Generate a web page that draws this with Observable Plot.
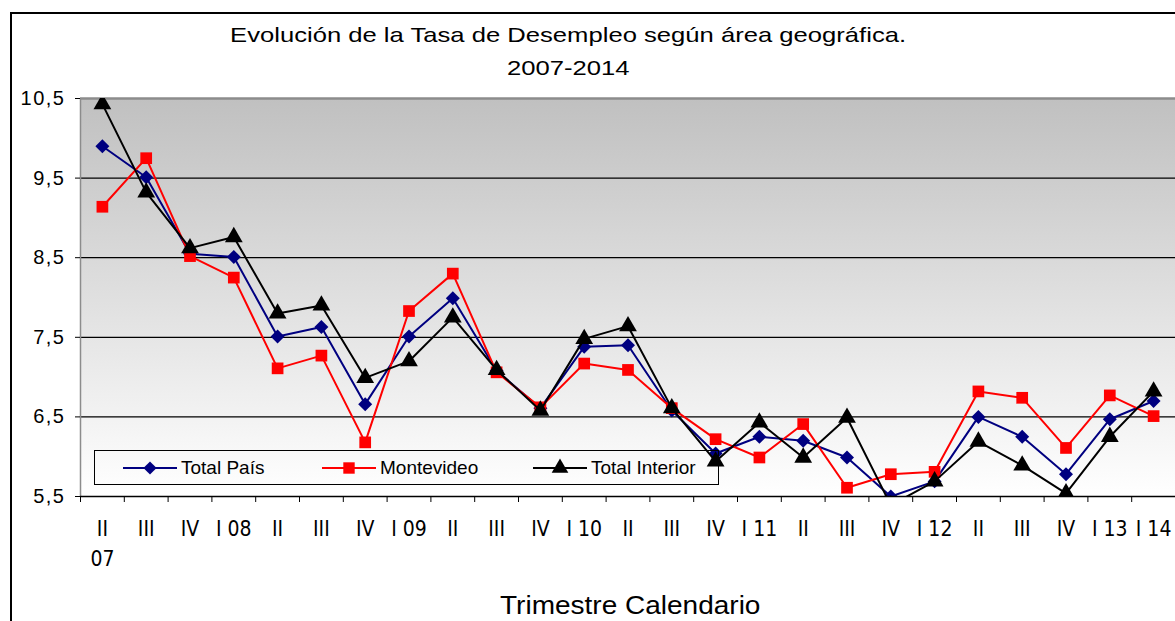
<!DOCTYPE html>
<html>
<head>
<meta charset="utf-8">
<script src="https://cdn.jsdelivr.net/npm/d3@7"></script>
<script src="https://cdn.jsdelivr.net/npm/@observablehq/plot@0.6"></script>
<style>
  html, body { margin: 0; padding: 0; background: #fff; }
  #wrap { position: relative; width: 1175px; height: 621px; overflow: hidden; font-family: "Liberation Sans", Arial, sans-serif; color: #000; }
  #border { position: absolute; left: 10px; top: 12px; right: -5px; bottom: -5px; border-top: 2px solid #000; border-left: 2px solid #000; pointer-events: none; }
  .title { position: absolute; left: 0; width: 1136px; text-align: center; font-size: 21px; white-space: nowrap; }
  .title span { display: inline-block; transform: scaleX(1.22); }
  #xtitle { position: absolute; left: 0; width: 1260px; text-align: center; top: 591px; font-size: 25px; white-space: nowrap; }
  #xtitle span { display: inline-block; transform: scaleX(1.12); }
  #legend { position: absolute; left: 94px; top: 450px; width: 625px; height: 35px; box-sizing: border-box; border: 1px solid #000; }
  .item { position: absolute; top: 0; height: 33px; display: flex; align-items: center; font-size: 19px; white-space: nowrap; }
  .item svg { display: block; margin-right: 4px; }
  #chart { position: absolute; left: 0; top: 0; }
  #chart svg g[aria-label="y-axis tick label"] text { font-size: 20px; letter-spacing: 1.5px; }
</style>
</head>
<body>
<div id="wrap">
  <div id="chart"></div>
  <div class="title" style="top:23px"><span>Evolución de la Tasa de Desempleo según área geográfica.</span></div>
  <div class="title" style="top:56px"><span>2007-2014</span></div>
  <div id="legend"></div>
  <div id="xtitle"><span>Trimestre Calendario</span></div>
  <div id="border"></div>
</div>
<script>
// ---- Data ----
const quarterLabels = ["II\n07","III","IV","I 08","II","III","IV","I 09","II","III","IV","I 10","II","III","IV","I 11","II","III","IV","I 12","II","III","IV","I 13","I 14"];
const seriesNames = ["Total País", "Montevideo", "Total Interior"];
const seriesColors = ["#000080", "#ff0000", "#000000"];
const seriesSymbols = ["diamond2", "square", "triangle"];
const totalPais = [9.90, 9.51, 8.55, 8.51, 7.51, 7.63, 6.66, 7.51, 7.99, 7.08, 6.61, 7.38, 7.40, 6.58, 6.04, 6.25, 6.20, 5.99, 5.50, 5.69, 6.50, 6.25, 5.78, 6.47, 6.70];
const montevideo = [9.14, 9.75, 8.52, 8.25, 7.11, 7.27, 6.18, 7.83, 8.30, 7.06, 6.62, 7.17, 7.09, 6.61, 6.22, 5.99, 6.41, 5.61, 5.78, 5.81, 6.82, 6.74, 6.11, 6.77, 6.51];
const totalInterior = [10.43, 9.32, 8.62, 8.76, 7.80, 7.90, 6.99, 7.20, 7.75, 7.09, 6.58, 7.48, 7.64, 6.61, 5.94, 6.43, 5.99, 6.49, 5.39, 5.69, 6.19, 5.89, 5.54, 6.25, 6.82];
const yTicks = [5.5, 6.5, 7.5, 8.5, 9.5, 10.5];

const seriesValues = [totalPais, montevideo, totalInterior];
const series = seriesNames.map((name, s) => ({
  name, color: seriesColors[s], symbol: seriesSymbols[s],
  rows: seriesValues[s].map((v, i) => ({i, value: v, series: name}))
}));
const idx = quarterLabels.map((_, i) => i);
const bounds = d3.range(-0.5, quarterLabels.length, 1);
const fmt = d => d.toFixed(1).replace(".", ",");

const defs = () => {
  const g = d3.create("svg:defs");
  const lg = g.append("linearGradient").attr("id", "bg").attr("x1", 0).attr("y1", 0).attr("x2", 0).attr("y2", 1);
  lg.append("stop").attr("offset", "0%").attr("stop-color", "#c0c0c0");
  lg.append("stop").attr("offset", "100%").attr("stop-color", "#ffffff");
  return g.node();
};

const seriesMarks = series.flatMap(s => [
  Plot.line(s.rows, {x: "i", y: "value", stroke: s.color, strokeWidth: 2, clip: true}),
  Plot.dot(s.rows, {x: "i", y: "value", symbol: s.symbol, fill: s.color, stroke: "none", r: s.symbol === "triangle" ? 6.6 : (s.symbol === "square" ? 6.6 : 6.3), clip: true})
]);

const chart = Plot.plot({
  width: 1175,
  height: 621,
  marginTop: 98,
  marginBottom: 125,
  marginLeft: 80,
  marginRight: 0,
  style: {fontFamily: "'Liberation Sans', Arial, sans-serif", background: "transparent", color: "#000", overflow: "visible"},
  x: {type: "linear", domain: [-0.5, quarterLabels.length - 0.5], axis: null},
  y: {domain: [5.5, 10.5], axis: null},
  marks: [
    defs,
    Plot.frame({fill: "url(#bg)", stroke: "none"}),
    Plot.ruleY(yTicks.filter(t => t > 5.5 && t < 10.5), {stroke: "#000", strokeWidth: 1.3}),
    Plot.ruleY([10.5], {stroke: "#8c8c8c", strokeWidth: 2.5}),
    Plot.ruleX([-0.5], {stroke: "#8c8c8c", strokeWidth: 1.5}),
    Plot.axisY({ticks: yTicks, tickFormat: fmt, tickSize: 5, tickPadding: 10, fontSize: 20, label: null}),
    Plot.axisX({ticks: bounds, tickFormat: () => "", tickSize: 6, label: null}),
    Plot.axisX({ticks: idx, tickFormat: i => quarterLabels[i], tickSize: 0, tickPadding: 19, fontSize: 21, lineHeight: 1.4, fontFamily: "'Liberation Sans Narrow', 'Arial Narrow', 'DejaVu Sans Condensed', sans-serif", label: null}),
    ...seriesMarks,
    Plot.ruleY([5.5], {stroke: "#000", strokeWidth: 1.5})
  ]
});
document.getElementById("chart").appendChild(chart);

// ---- Legend ----
const legendPos = [28, 227, 438];
const legend = document.getElementById("legend");
series.forEach((s, k) => {
  const item = document.createElement("div");
  item.className = "item";
  item.style.left = legendPos[k] + "px";
  const sym = d3.symbol(
    s.symbol === "triangle" ? d3.symbolTriangle : s.symbol === "square" ? d3.symbolSquare : d3.symbolDiamond2,
    s.symbol === "triangle" ? 120 : s.symbol === "square" ? 130 : 110)();
  item.innerHTML = `<svg width="54" height="20"><line x1="0" x2="54" y1="10" y2="10" stroke="${s.color}" stroke-width="2"/><path d="${sym}" transform="translate(27,10)" fill="${s.color}"/></svg><span>${s.name}</span>`;
  legend.appendChild(item);
});
</script>
</body>
</html>
